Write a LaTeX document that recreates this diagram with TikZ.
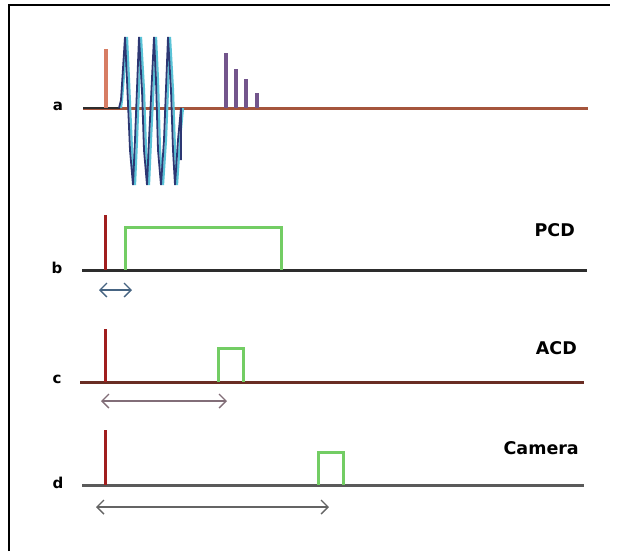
\documentclass[tikz,border=0pt]{standalone}
\usepackage{fontspec}
\newfontfamily\lblfont{DejaVu Sans}[BoldFont={DejaVu Sans Bold}]
\usetikzlibrary{arrows.meta}
\definecolor{axA}{RGB}{165,85,60}
\definecolor{trigA}{RGB}{215,125,100}
\definecolor{wavenavy}{RGB}{45,55,115}
\definecolor{wavecyan}{RGB}{90,195,215}
\definecolor{decay}{RGB}{115,85,140}
\definecolor{axB}{RGB}{45,45,45}
\definecolor{pulsered}{RGB}{160,30,30}
\definecolor{gatered}{RGB}{115,205,100}
\definecolor{axC}{RGB}{105,45,35}
\definecolor{axD}{RGB}{90,90,90}
\definecolor{arrB}{RGB}{70,100,130}
\definecolor{arrC}{RGB}{130,110,120}
\definecolor{arrD}{RGB}{100,100,100}
\tikzset{
  axisline/.style={line width=3pt},
  pulse/.style={line width=3pt, pulsered},
  gate/.style={line width=3pt, gatered},
  rowlbl/.style={font=\lblfont\bfseries\fontsize{15}{15}\selectfont, inner sep=0pt},
  chanlbl/.style={font=\lblfont\bfseries\fontsize{17.5}{17.5}\selectfont, inner sep=0pt, anchor=east},
  delay/.style={line width=1.4pt, {Straight Barb[length=7pt,width=14pt]}-{Straight Barb[length=7pt,width=14pt]}}
}
\begin{document}
\begin{tikzpicture}[x=1pt,y=-1pt]
\useasboundingbox (0,0) rectangle (620,551);
% frame
\draw[line width=2.5pt] (9,551) -- (9,5) -- (610,5);

% row labels
\node[rowlbl] (la) at (58,106) {a};
\node[rowlbl] (lb) at (57,268) {b};
\node[rowlbl] (lc) at (57,379) {c};
\node[rowlbl] (ld) at (58,483) {d};
\node[chanlbl] (pcd) at (575,230) {PCD};
\node[chanlbl] (acd) at (577,348) {ACD};
\node[chanlbl] (cam) at (579,448) {Camera};

% ---- row a
\coordinate (a0) at (83,108); \coordinate (a1) at (588,108);
\draw[axisline, axA] (a0) -- (a1);
\draw[axisline, axB, line width=2.5pt] (a0) -- (120,108);
\coordinate (ta0) at (106,108); \coordinate (ta1) at (106,49);
\draw[line width=3.8pt, trigA] (ta0) -- (ta1);
% wave packet
\draw[line width=2.2pt, wavecyan] (121,108) -- (122,100) -- (127,37) -- (129,80) -- (132,150) -- (135,185) -- (137,140) -- (141,37) -- (144,90) -- (146,150) -- (149,185) -- (151,140) -- (156,37) -- (158,80) -- (160,150) -- (163,185) -- (166,140) -- (170,37) -- (173,90) -- (175,150) -- (177,185) -- (180,140) -- (183,108);
\draw[line width=1.8pt, wavenavy] (119,108) -- (121,100) -- (125,37) -- (127,80) -- (130,150) -- (133,185) -- (135,140) -- (139,37) -- (142,90) -- (144,150) -- (147,185) -- (149,140) -- (154,37) -- (156,80) -- (158,150) -- (161,185) -- (164,140) -- (168,37) -- (171,90) -- (173,150) -- (175,185) -- (178,140) -- (181,108) -- (181,160);
% decaying echoes
\foreach \x/\t in {226/53, 236/69, 246/79, 257/93}{
  \draw[line width=3.4pt, decay] (\x,108) -- (\x,\t);
}

% ---- row b
\coordinate (b0) at (82,270); \coordinate (b1) at (587,270);
\draw[axisline, axB] (b0) -- (b1);
\coordinate (pb0) at (105,270); \coordinate (pb1) at (105,215);
\draw[pulse] (pb0) -- (pb1);
\draw[gate] (125,270) -- (125,227) -- (281,227) -- (281,270);
\coordinate (db0) at (99,290); \coordinate (db1) at (132,290);
\draw[delay, arrB] (db0) -- (db1);

% ---- row c
\coordinate (c0) at (80,382); \coordinate (c1) at (584,382);
\draw[axisline, axC] (c0) -- (c1);
\coordinate (pc0) at (105,382); \coordinate (pc1) at (105,329);
\draw[pulse] (pc0) -- (pc1);
\draw[gate] (218,382) -- (218,348) -- (243,348) -- (243,382);
\coordinate (dc0) at (101,401); \coordinate (dc1) at (227,401);
\draw[delay, arrC] (dc0) -- (dc1);

% ---- row d
\coordinate (d0) at (82,485); \coordinate (d1) at (584,485);
\draw[axisline, axD] (d0) -- (d1);
\coordinate (pd0) at (105,485); \coordinate (pd1) at (105,430);
\draw[pulse] (pd0) -- (pd1);
\draw[gate] (318,485) -- (318,452) -- (343,452) -- (343,485);
\coordinate (dd0) at (96,507); \coordinate (dd1) at (329,507);
\draw[delay, arrD] (dd0) -- (dd1);
\end{tikzpicture}
\end{document}
